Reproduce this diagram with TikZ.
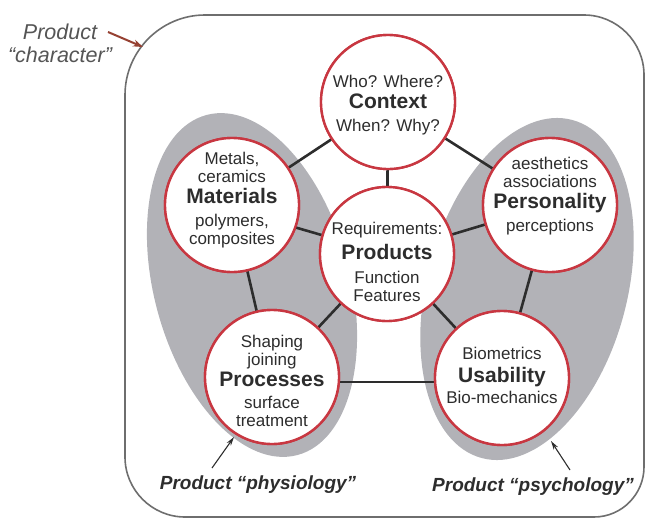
\documentclass[tikz,border=0pt]{standalone}
\usepackage{fontspec}
\setmainfont{Liberation Sans}
\usetikzlibrary{arrows.meta}
\definecolor{ringred}{RGB}{200,55,65}
\definecolor{blobgray}{RGB}{178,178,183}
\definecolor{txt}{RGB}{45,45,45}
\definecolor{framegray}{RGB}{110,110,110}
\definecolor{chargray}{RGB}{85,85,85}
\definecolor{arrowred}{RGB}{150,65,50}
\newcommand\smf{\fontsize{17}{18}\selectfont}
\newcommand\bgf{\fontsize{21}{22}\selectfont\bfseries}
\begin{document}
\begin{tikzpicture}[x=1pt,y=-1pt,
  hub/.style={circle, draw=ringred, line width=2.4pt, fill=white, minimum size=134pt, inner sep=0pt},
  copy/.style={align=center, text=txt, font=\smf, inner sep=0pt},
  link/.style={draw=txt, line width=2.6pt},
  blob/.style={fill=blobgray},
  frame/.style={draw=framegray, line width=1.6pt},
  tag/.style={font=\fontsize{19}{21}\selectfont\bfseries\itshape, text=txt, inner sep=0pt},
  pointer/.style={draw=txt, line width=1.1pt, -{Stealth[length=9pt,width=5pt]}},
  redpointer/.style={draw=arrowred, line width=2pt, -{Stealth[length=10pt,width=7pt]}}
]
\useasboundingbox (0,0) rectangle (648,522);

% outer frame
\draw[frame] (125,95) .. controls (125,51) and (161,15) .. (205,15)
  -- (584,15) .. controls (617,15) and (644,42) .. (644,75)
  -- (644,467) .. controls (644,494) and (622,517) .. (594,517)
  -- (185,517) .. controls (152,517) and (125,490) .. (125,457) -- cycle;

% gray blobs
\fill[blob, rotate around={15:(252,285)}] (252,285) ellipse [x radius=98, y radius=176];
\fill[blob, rotate around={-15:(527,289)}] (527,289) ellipse [x radius=100, y radius=175];

% circles
\node[hub] (ctx)  at (388,102) {};
\node[hub] (mat)  at (232,205) {};
\node[hub] (pers) at (550,205) {};
\node[hub] (prod) at (387,254) {};
\node[hub] (proc) at (272,377) {};
\node[hub] (usa)  at (502,378) {};

% connectors
\draw[link] (ctx) -- (mat);
\draw[link] (ctx) -- (pers);
\draw[link] (ctx) -- (prod);
\draw[link] ([yshift=-4pt]mat.center) -- (prod);
\draw[link] (pers) -- (prod);
\draw[link] (mat) -- (proc);
\draw[link] (pers) -- (usa);
\draw[link] (prod) -- (proc);
\draw[link] (prod) -- (usa);
\draw[link] ([yshift=-5pt]proc.east) -- ([yshift=-4pt]usa.west);

% redraw circles on top of connectors
\foreach \n in {ctx,mat,pers,prod,proc,usa}{
  \node[hub] at (\n.center) {};
}

% texts
\node[copy] (ctxt)  at (388,105) {Who? Where?\\[3pt]{\bgf Context}\\[5pt]When? Why?};
\node[copy] (matt)  at (232,200) {Metals,\\ceramics\\[3pt]{\bgf Materials}\\[5pt]polymers,\\composites};
\node[copy] (perst) at (550,196) {aesthetics\\associations\\[3pt]{\bgf Personality}\\[5pt]perceptions};
\node[copy] (prodt) at (387,262) {Requirements:\\[5pt]{\bgf Products}\\[6pt]Function\\Features};
\node[copy] (proct) at (272,381) {Shaping\\joining\\[3pt]{\bgf Processes}\\[4pt]surface\\treatment};
\node[copy] (usat)  at (502,375) {Biometrics\\[5pt]{\bgf Usability}\\[3pt]Bio-mechanics};

% labels
\node[align=center, text=chargray, font=\fontsize{21.5}{23}\selectfont\itshape, inner sep=0pt] (charl) at (60,43) {Product\\“character”};
\coordinate (charS) at (108,32);
\coordinate (charT) at (143,47);
\draw[redpointer] (charS) -- (charT);

\node[tag] (phys)  at (258,485) {Product “physiology”};
\node[tag] (psych) at (533,487) {Product “psychology”};
\coordinate (physS) at (212,468);
\coordinate (physT) at (234,437);
\coordinate (psyS) at (570,470);
\coordinate (psyT) at (551,441);
\draw[pointer] (physS) -- (physT);
\draw[pointer] (psyS) -- (psyT);
\end{tikzpicture}
\end{document}
